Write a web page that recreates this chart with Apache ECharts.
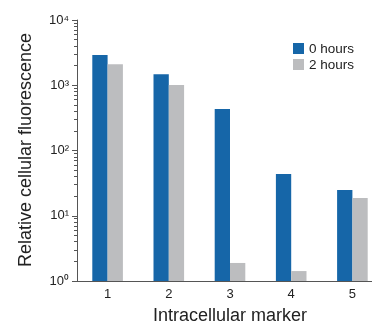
<!DOCTYPE html>
<html><head><meta charset="utf-8">
<script src="https://cdn.jsdelivr.net/npm/echarts@6/dist/echarts.min.js"></script>
<style>html,body{margin:0;padding:0;background:#fff}#c{width:372px;height:324px}</style>
</head><body><div id="c"></div>
<script>
const categories = ['1', '2', '3', '4', '5'];
const seriesNames = ['0 hours', '2 hours'];
const hours0 = [2900, 1480, 432, 43.5, 24.8];
const hours2 = [2100, 1005, 1.89, 1.42, 18.7];
const yMin = 1, yMax = 10000;
const superscripts = ['⁰', '¹', '²', '³', '⁴'];
const minorTickMultipliers = [2, 3, 4, 5, 6, 7, 8, 9];
const decades = [1, 10, 100, 1000];
const xName = 'Intracellular marker';
const yName = 'Relative cellular fluorescence';
const colors = ['#1666a8', '#bcbdbf'];

const logMin = Math.log10(yMin), logMax = Math.log10(yMax);
const minorTickPositions = [];
decades.forEach(d => minorTickMultipliers.forEach(m => minorTickPositions.push(Math.log10(d * m))));

const font = 'Liberation Sans, Arial, Helvetica, sans-serif';
const axisColor = '#555';
const textColor = '#222';
const chart = echarts.init(document.getElementById('c'), null, {renderer: 'canvas'});
chart.setOption({
  animation: false,
  textStyle: {fontFamily: font},
  grid: {left: 77, width: 306, top: 20, height: 261, outerBoundsMode: 'none', containLabel: false},
  xAxis: [{
    type: 'category', data: categories,
    axisLine: {lineStyle: {color: axisColor, width: 1}},
    axisTick: {show: false},
    axisLabel: {fontSize: 13, color: textColor, margin: 7, fontFamily: font}
  }, {
    type: 'category', data: categories, position: 'top',
    axisLine: {lineStyle: {color: axisColor, width: 1}},
    axisTick: {show: false}, axisLabel: {show: false}
  }],
  yAxis: [{
    type: 'log', logBase: 10, min: yMin, max: yMax, position: 'left',
    axisLine: {show: false},
    axisTick: {show: false},
    splitLine: {show: false},
    axisLabel: {
      margin: 8, color: textColor, fontSize: 13, fontFamily: font,
      formatter: v => '10' + superscripts[Math.round(Math.log10(v))]
    }
  }, {
    type: 'value', min: logMin, max: logMax, interval: 1, position: 'left',
    axisLine: {show: true, onZero: false, lineStyle: {color: axisColor, width: 1}},
    axisTick: {show: true, inside: false, length: 5, lineStyle: {color: axisColor, width: 1}},
    axisLabel: {show: false},
    splitLine: {show: false}
  }, {
    type: 'value', min: logMin, max: logMax, position: 'left',
    axisLine: {show: false},
    axisTick: {show: true, inside: false, length: 3, customValues: minorTickPositions,
      lineStyle: {color: axisColor, width: 1}},
    axisLabel: {show: false},
    splitLine: {show: false}
  }],
  graphic: [
    {type: 'text', x: 26, y: 150, rotation: Math.PI / 2,
      style: {text: yName, fontSize: 18, fontFamily: font, fill: textColor, align: 'center', verticalAlign: 'middle'}},
    {type: 'text', x: 230, y: 316,
      style: {text: xName, fontSize: 18, fontFamily: font, fill: textColor, align: 'center', verticalAlign: 'middle'}},
    {type: 'rect', shape: {x: 293, y: 43, width: 11, height: 11}, style: {fill: colors[0]}},
    {type: 'rect', shape: {x: 293, y: 59, width: 11, height: 11}, style: {fill: colors[1]}},
    {type: 'text', x: 309, y: 49,
      style: {text: seriesNames[0], fontSize: 13.5, fontFamily: font, fill: textColor, align: 'left', verticalAlign: 'middle'}},
    {type: 'text', x: 309, y: 65,
      style: {text: seriesNames[1], fontSize: 13.5, fontFamily: font, fill: textColor, align: 'left', verticalAlign: 'middle'}}
  ],
  series: [{
    name: seriesNames[0], type: 'bar', data: hours0, barWidth: '25%', barGap: '0%',
    yAxisIndex: 0, itemStyle: {color: colors[0]}
  }, {
    name: seriesNames[1], type: 'bar', data: hours2, barWidth: '25%', barGap: '0%',
    yAxisIndex: 0, itemStyle: {color: colors[1]}
  }]
});
</script></body></html>
